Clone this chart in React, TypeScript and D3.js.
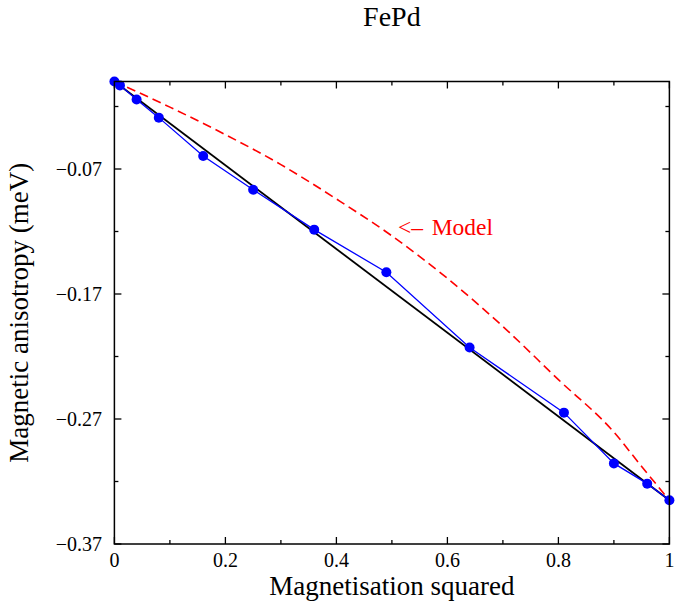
import React from "react";
import * as d3 from "d3";

// Measured data (blue, with markers)
const dataX = [0, 0.01, 0.04, 0.08, 0.16, 0.25, 0.36, 0.49, 0.64, 0.81, 0.9, 0.96, 1.0];
const dataY = [0, -0.0031, -0.0144, -0.0289, -0.0596, -0.0866, -0.1185, -0.1526, -0.2128, -0.2649, -0.3055, -0.3217, -0.335];

// Straight reference line (black)
const lineX = [0, 1];
const lineY = [0, -0.335];

// Model curve (red dashed)
const modelX = [0, 0.1, 0.2, 0.3, 0.4, 0.5, 0.6, 0.7, 0.8, 0.9, 0.95, 1.0];
const modelY = [0, -0.0205, -0.0425, -0.0665, -0.094, -0.1235, -0.1575, -0.196, -0.2385, -0.2805, -0.308, -0.335];

// Ticks
const xMajorTicks = [0, 0.2, 0.4, 0.6, 0.8, 1];
const xTickLabels = ["0", "0.2", "0.4", "0.6", "0.8", "1"];
const xMinorTicks = [0.1, 0.3, 0.5, 0.7, 0.9];
const yMajorTicks = [-0.37, -0.27, -0.17, -0.07];
const yTickLabels = ["\u22120.37", "\u22120.27", "\u22120.17", "\u22120.07"];
const yMinorTicks = [-0.32, -0.22, -0.12, -0.02];

const W = 694;
const H = 603;
const L = 114.4;
const R = 669.4;
const T = 81.5;
const B = 544;

const FONT = "'Liberation Serif', 'Times New Roman', Times, serif";

export default function App() {
  const x = d3.scaleLinear().domain([0, 1]).range([L, R]);
  const y = d3.scaleLinear().domain([-0.37, 0]).range([B, T]);

  const line = d3
    .line<[number, number]>()
    .x((d) => x(d[0]))
    .y((d) => y(d[1]));
  const smooth = d3
    .line<[number, number]>()
    .x((d) => x(d[0]))
    .y((d) => y(d[1]))
    .curve(d3.curveMonotoneX);

  const dataPts: [number, number][] = dataX.map((v, i) => [v, dataY[i]]);
  const linePts: [number, number][] = lineX.map((v, i) => [v, lineY[i]]);
  const modelPts: [number, number][] = modelX.map((v, i) => [v, modelY[i]]);

  const majorLen = 7;
  const minorLen = 4;
  const tickStroke = "#000";

  return (
    <svg
      width={W}
      height={H}
      style={{ position: "absolute", left: 0, top: 0, background: "#fff" }}
      fontFamily={FONT}
    >
      <rect x={0} y={0} width={W} height={H} fill="#fff" />
      <text x={(L + R) / 2} y={26} fontSize={28} textAnchor="middle" fill="#000">
        FePd
      </text>

      {/* ticks */}
      <g stroke={tickStroke} strokeWidth={1.3}>
        {xMajorTicks.map((t) => (
          <g key={"xM" + t}>
            <line x1={x(t)} x2={x(t)} y1={B} y2={B - majorLen} />
            <line x1={x(t)} x2={x(t)} y1={T} y2={T + majorLen} />
          </g>
        ))}
        {xMinorTicks.map((t) => (
          <g key={"xm" + t}>
            <line x1={x(t)} x2={x(t)} y1={B} y2={B - minorLen} />
            <line x1={x(t)} x2={x(t)} y1={T} y2={T + minorLen} />
          </g>
        ))}
        {yMajorTicks.map((t) => (
          <g key={"yM" + t}>
            <line x1={L} x2={L + majorLen} y1={y(t)} y2={y(t)} />
            <line x1={R} x2={R - majorLen} y1={y(t)} y2={y(t)} />
          </g>
        ))}
        {yMinorTicks.map((t) => (
          <g key={"ym" + t}>
            <line x1={L} x2={L + minorLen} y1={y(t)} y2={y(t)} />
            <line x1={R} x2={R - minorLen} y1={y(t)} y2={y(t)} />
          </g>
        ))}
      </g>

      {/* tick labels */}
      {xMajorTicks.map((t, i) => (
        <text key={"xl" + t} x={x(t)} y={567} fontSize={20} textAnchor="middle" fill="#000">
          {xTickLabels[i]}
        </text>
      ))}
      {yMajorTicks.map((t, i) => (
        <text key={"yl" + t} x={102} y={y(t) + 7} fontSize={20} textAnchor="end" fill="#000">
          {yTickLabels[i]}
        </text>
      ))}

      {/* axis titles */}
      <text x={(L + R) / 2} y={595} fontSize={27} textAnchor="middle" fill="#000">
        Magnetisation squared
      </text>
      <text
        transform={`translate(28, ${(T + B) / 2}) rotate(-90)`}
        fontSize={27}
        textAnchor="middle"
        fill="#000"
      >
        Magnetic anisotropy (meV)
      </text>

      {/* series */}
      <path d={smooth(modelPts) || ""} fill="none" stroke="#ff0000" strokeWidth={1.6} strokeDasharray="9,5" />
      <path d={line(linePts) || ""} fill="none" stroke="#000" strokeWidth={1.8} />
      <path d={line(dataPts) || ""} fill="none" stroke="#0000ff" strokeWidth={1.3} />
      {dataPts.map((d, i) => (
        <circle key={"p" + i} cx={x(d[0])} cy={y(d[1])} r={5} fill="#0000ff" />
      ))}

      {/* annotation */}
      <text y={235} fontSize={23.5} fill="#ff0000">
        <tspan x={398}>{"<\u2013"}</tspan>
        <tspan x={431.7}>Model</tspan>
      </text>

      {/* frame */}
      <rect x={L} y={T} width={R - L} height={B - T} fill="none" stroke="#000" strokeWidth={1.5} />
    </svg>
  );
}
